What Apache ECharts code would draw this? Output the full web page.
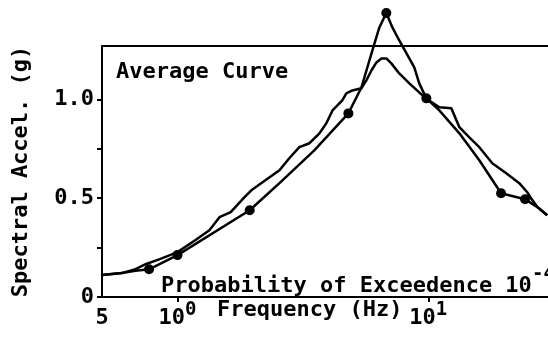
<!DOCTYPE html>
<html>
<head>
<meta charset="utf-8">
<script src="https://cdn.jsdelivr.net/npm/echarts@6/dist/echarts.min.js"></script>
<style>
  html, body { margin: 0; padding: 0; background: #fff; }
  #container { width: 548px; height: 339px; }
</style>
</head>
<body>
<div id="container"></div>
<script>
// design curve (with dots) and computed average curve
var designFreq = [0.5, 0.6, 0.68, 0.77, 1.0, 1.94, 2.55, 3.51, 4.8, 5.41, 5.98, 6.38, 6.8, 7.19, 7.66, 8.79, 9.2, 9.82, 11.06, 13.3, 15.97, 19.5, 24.3, 27.2, 29.8];
var designAccel = [0.111, 0.121, 0.133, 0.14, 0.212, 0.439, 0.576, 0.742, 0.929, 1.06, 1.247, 1.364, 1.437, 1.364, 1.298, 1.162, 1.081, 1.005, 0.944, 0.828, 0.692, 0.525, 0.495, 0.455, 0.414];

var dotFreq = [0.77, 1.0, 1.94, 4.8, 6.8, 9.82, 19.5, 24.3];
var dotAccel = [0.14, 0.212, 0.439, 0.929, 1.437, 1.005, 0.525, 0.495];

var avgFreq = [0.5, 0.6, 0.68, 0.75, 0.85, 1.0, 1.18, 1.34, 1.47, 1.63, 1.85, 1.97, 2.24, 2.55, 2.79, 3.06, 3.36, 3.68, 3.92, 4.15, 4.54, 4.71, 4.98, 5.41, 5.66, 5.93, 6.21, 6.5, 6.8, 7.12, 7.66, 8.4, 9.2, 9.91, 11.06, 12.35, 13.3, 14.57, 15.97, 17.99, 20.45, 23.05, 24.8, 25.5, 27.2, 29.8];
var avgAccel = [0.111, 0.121, 0.141, 0.167, 0.192, 0.227, 0.288, 0.338, 0.404, 0.429, 0.505, 0.540, 0.591, 0.641, 0.702, 0.758, 0.778, 0.828, 0.879, 0.944, 0.995, 1.030, 1.045, 1.056, 1.096, 1.146, 1.187, 1.207, 1.207, 1.182, 1.131, 1.081, 1.035, 1.0, 0.960, 0.955, 0.859, 0.808, 0.758, 0.677, 0.626, 0.576, 0.530, 0.505, 0.455, 0.414];

var xTicks = [1, 10];
var xLabels = [0.5, 1, 10];
var yTicks = [0, 0.25, 0.5, 0.75, 1.0];
var yLabels = [0, 0.5, 1.0];

var FONT = 'DejaVu Sans Mono';

function zip(a, b) {
    return a.map(function (v, i) { return [v, b[i]]; });
}

var myChart = echarts.init(document.getElementById('container'));

myChart.setOption({
    animation: false,
    backgroundColor: '#fff',
    grid: { left: 102, right: 0, top: 46, bottom: 42 },
    xAxis: [{
        type: 'log',
        min: 0.5,
        max: 30,
        axisLine: { show: true, lineStyle: { color: '#000', width: 2 } },
        axisTick: { show: true, customValues: xTicks, length: 5, lineStyle: { color: '#000', width: 2 } },
        splitLine: { show: false },
        axisLabel: {
            customValues: xLabels,
            margin: 4,
            formatter: function (v) {
                if (v < 1) return '{n|5}';
                return v < 5 ? '{n|10}{s|0}' : '{n|10}{s|1}';
            },
            rich: {
                n: { fontFamily: FONT, fontWeight: 'bold', fontSize: 22, lineHeight: 22, padding: [12, 0, 0, 0], color: '#000' },
                s: { fontFamily: FONT, fontWeight: 'bold', fontSize: 19, lineHeight: 19, verticalAlign: 'top', color: '#000' }
            }
        }
    }, {
        type: 'log',
        position: 'top',
        min: 0.5,
        max: 30,
        axisLine: { show: true, lineStyle: { color: '#000', width: 2 } },
        axisTick: { show: false },
        axisLabel: { show: false },
        splitLine: { show: false }
    }],
    yAxis: {
        type: 'value',
        min: 0,
        max: 1.27,
        name: 'Spectral Accel. (g)',
        nameLocation: 'middle',
        nameGap: 70,
        nameTextStyle: { fontFamily: FONT, fontWeight: 'bold', fontSize: 22, color: '#000' },
        axisLine: { show: true, lineStyle: { color: '#000', width: 2 } },
        axisTick: { show: true, customValues: yTicks, length: 5, lineStyle: { color: '#000', width: 2 } },
        splitLine: { show: false },
        axisLabel: {
            customValues: yLabels,
            margin: 8,
            fontFamily: FONT,
            fontWeight: 'bold',
            fontSize: 22,
            color: '#000',
            formatter: function (v) { return v === 0 ? '0' : v.toFixed(1); }
        }
    },
    graphic: [
        { type: 'text', x: 116, y: 72, style: { text: 'Average Curve', font: 'bold 22px "DejaVu Sans Mono"', fill: '#000', verticalAlign: 'middle' } },
        { type: 'text', x: 161, y: 286, style: { text: 'Probability of Exceedence 10', font: 'bold 22px "DejaVu Sans Mono"', fill: '#000', verticalAlign: 'middle' } },
        { type: 'text', x: 532, y: 274, style: { text: '-4', font: 'bold 19px "DejaVu Sans Mono"', fill: '#000', verticalAlign: 'middle' } },
        { type: 'text', x: 217, y: 310, style: { text: 'Frequency (Hz)', font: 'bold 22px "DejaVu Sans Mono"', fill: '#000', verticalAlign: 'middle' } }
    ],
    series: [{
        name: 'Average',
        type: 'line',
        data: zip(avgFreq, avgAccel),
        symbol: 'none',
        clip: false,
        lineStyle: { color: '#000', width: 2.5 }
    }, {
        name: 'Design',
        type: 'line',
        data: zip(designFreq, designAccel),
        symbol: 'none',
        clip: false,
        lineStyle: { color: '#000', width: 2.5 }
    }, {
        name: 'Points',
        type: 'scatter',
        data: zip(dotFreq, dotAccel),
        symbolSize: 10,
        clip: false,
        itemStyle: { color: '#000', opacity: 1 }
    }]
});
</script>
</body>
</html>
